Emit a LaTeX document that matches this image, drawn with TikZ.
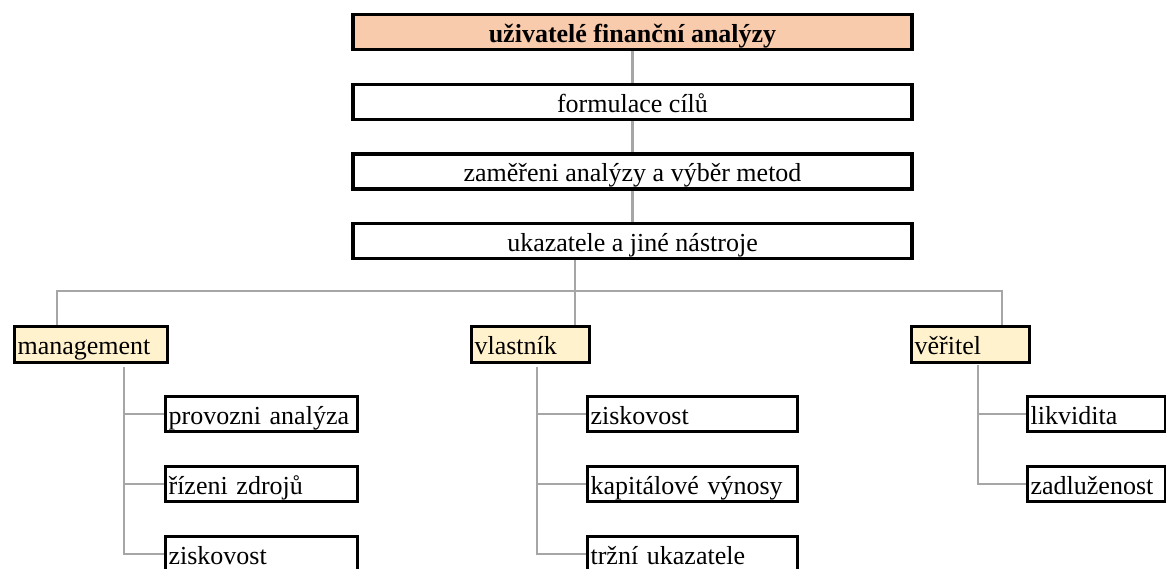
\documentclass[tikz,border=0pt]{standalone}
\usepackage{fontspec}
\setmainfont{Liberation Serif}
\definecolor{salmon}{HTML}{F8CBAD}
\definecolor{cream}{HTML}{FFF2CC}
\definecolor{linkgray}{HTML}{A6A6A6}
\tikzset{
    stage/.style={draw, line width=3.2pt, minimum width=559pt, minimum height=35pt, inner sep=0pt, text height=20pt, text depth=0pt},
    party/.style={draw, fill=cream, line width=3.2pt, minimum height=36pt, inner xsep=3pt, inner ysep=0pt, text height=20pt, text depth=0pt, align=left, anchor=west},
    leaf/.style={draw, line width=3.2pt, minimum height=35pt, inner xsep=3pt, inner ysep=0pt, text height=20pt, text depth=0pt, align=left, anchor=west},
    link/.style={draw=linkgray, line width=2.8pt}
}
\begin{document}
\begin{tikzpicture}[x=1pt, y=-1pt, font=\fontsize{26}{30}\selectfont]
                    \useasboundingbox (0,0) rectangle (1166,568);
                    \clip (0,0) rectangle (1166,568);
                    \node[stage, fill=salmon, font=\fontsize{26}{30}\selectfont\bfseries] (users) at (632.5,32) {uživatelé finanční analýzy};
                    \node[stage] (goals) at (632.5,102) {formulace cílů};
                    \node[stage] (focus) at (632.5,171.5) {zaměřeni analýzy a výběr metod};
                    \node[stage] (tools) at (632.5,241) {ukazatele a jiné nástroje};
                    \node[party, text width=147pt] (mgmt) at (13,344.5) {management};
                    \node[party, text width=112pt] (owner) at (470,344.5) {vlastník};
                    \node[party, text width=112pt] (creditor) at (910,344.5) {věřitel};
                    \node[leaf, text width=186pt] (m1) at (164,414) {provozni analýza};
                    \node[leaf, text width=186pt] (m2) at (164,484) {řízeni zdrojů};
                    \node[leaf, text width=186pt] (m3) at (164,554) {ziskovost};
                    \node[leaf, text width=204pt] (o1) at (586,414) {ziskovost};
                    \node[leaf, text width=204pt] (o2) at (586,484) {kapitálové výnosy};
                    \node[leaf, text width=204pt] (o3) at (586,554) {tržní ukazatele};
                    \node[leaf, text width=132pt] (c1) at (1026,414) {likvidita};
                    \node[leaf, text width=132pt] (c2) at (1026,484) {zadluženost};
                    \coordinate (bus) at (575,291);
                    \coordinate (busL) at (57,291);
                    \coordinate (busR) at (1002,291);
                    \coordinate (mtop) at (124,367);
                    \coordinate (otop) at (537,367);
                    \coordinate (ctop) at (978,365);
                    \path[link] (users) -- (goals);
                    \path[link] (goals) -- (focus);
                    \path[link] (focus) -- (tools);
                    \path[link] (bus |- tools.south) -- (bus |- owner.north);
                    \path[link] (busL |- mgmt.north) -- (busL) -- (busR) -- (busR |- creditor.north);
                    \path[link] (mtop) |- (m3.west);
                    \path[link] (mtop |- m1.west) -- (m1.west);
                    \path[link] (mtop |- m2.west) -- (m2.west);
                    \path[link] (otop) |- (o3.west);
                    \path[link] (otop |- o1.west) -- (o1.west);
                    \path[link] (otop |- o2.west) -- (o2.west);
                    \path[link] (ctop) |- (c2.west);
                    \path[link] (ctop |- c1.west) -- (c1.west);
\end{tikzpicture}
\end{document}
